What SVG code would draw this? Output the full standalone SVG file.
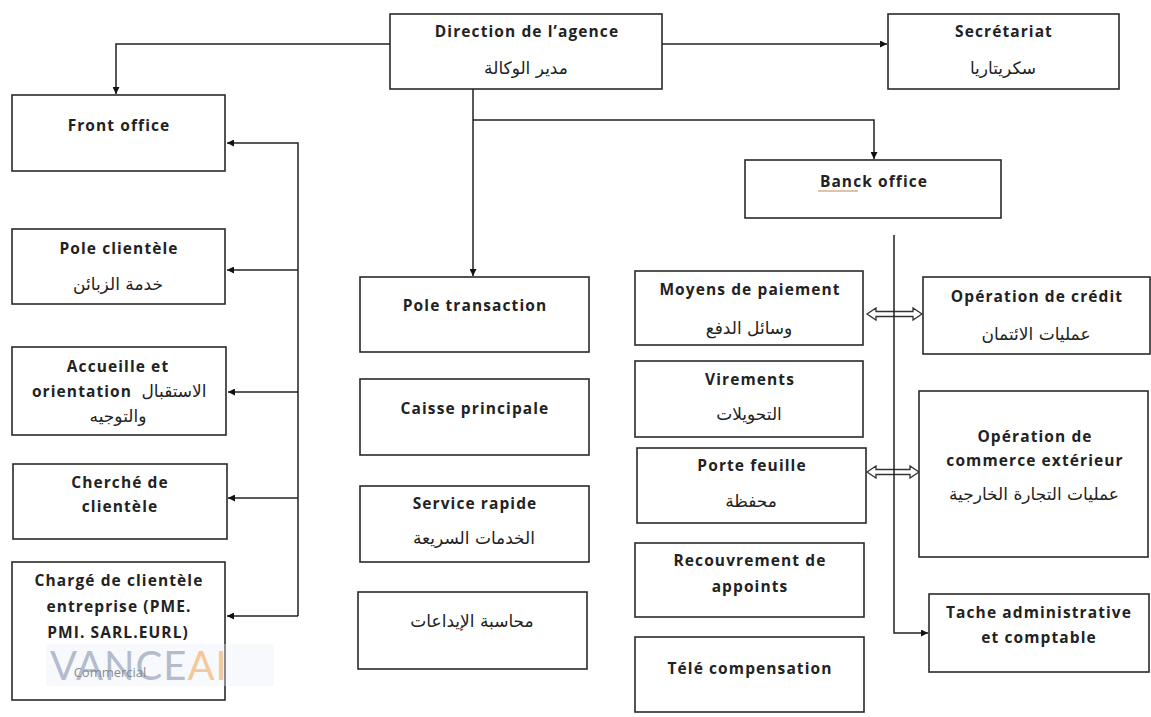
<svg xmlns="http://www.w3.org/2000/svg" width="1151" height="717" viewBox="0 0 1151 717">
<style>
.box{fill:#fff;stroke:#2a2a2a;stroke-width:1.6}
.t{font-family:"Open Sans","Liberation Sans",sans-serif;font-size:15.5px;font-weight:700;letter-spacing:1.1px;fill:#222;text-anchor:middle}
.ar{font-family:"DejaVu Sans","Noto Sans",sans-serif;font-size:17px;fill:#222;text-anchor:middle;direction:rtl}
.ln{fill:none;stroke:#222;stroke-width:1.5}
.dbl{fill:#fff;stroke:#333;stroke-width:1.3}
</style>
<defs>
<marker id="ah" viewBox="0 0 10 10" refX="10" refY="5" markerWidth="7" markerHeight="7" markerUnits="userSpaceOnUse" orient="auto">
<path d="M0,0 L10,5 L0,10 z" fill="#111"/>
</marker>
</defs>
<rect width="1151" height="717" fill="#fff"/>

<g id="connectors">
<path class="ln" d="M390,44 H116 V94" marker-end="url(#ah)"/>
<path class="ln" d="M662,44 H887" marker-end="url(#ah)"/>
<path class="ln" d="M473,89 V276" marker-end="url(#ah)"/>
<path class="ln" d="M473,120 H874 V159" marker-end="url(#ah)"/>
<path class="ln" d="M298,616 V143 H227" marker-end="url(#ah)"/>
<path class="ln" d="M298,270 H227" marker-end="url(#ah)"/>
<path class="ln" d="M298,392 H228" marker-end="url(#ah)"/>
<path class="ln" d="M298,498 H228" marker-end="url(#ah)"/>
<path class="ln" d="M298,616 H227" marker-end="url(#ah)"/>
<polygon class="dbl" points="867,314 876,308 876,311.5 913,311.5 913,308 922,314 913,320 913,316.5 876,316.5 876,320"/>
<polygon class="dbl" points="867,472 876,466 876,469.5 910,469.5 910,466 919,472 910,478 910,474.5 876,474.5 876,478"/>
<path class="ln" d="M894,235 V633 H928" marker-end="url(#ah)"/>
</g>

<g id="direction">
<rect class="box" x="390" y="14" width="272" height="75"/>
<text class="t" x="527" y="37">Direction de l’agence</text>
<text class="ar" x="526" y="74">مدير الوكالة</text>
</g>
<g id="secretariat">
<rect class="box" x="888" y="14" width="231" height="75"/>
<text class="t" x="1004" y="37">Secrétariat</text>
<text class="ar" x="1003" y="74">سكريتاريا</text>
</g>
<g id="front-office">
<rect class="box" x="12" y="95" width="213" height="76"/>
<text class="t" x="119" y="131">Front office</text>
</g>
<g id="banck-office">
<rect class="box" x="745" y="160" width="256" height="58"/>
<text class="t" x="874" y="187">Banck office</text>
<path d="M818,191 H858" stroke="#c8864a" stroke-width="1" fill="none"/>
</g>
<g id="pole-clientele">
<rect class="box" x="12" y="229" width="213" height="75"/>
<text class="t" x="119" y="254">Pole clientèle</text>
<text class="ar" x="118" y="290">خدمة الزبائن</text>
</g>
<g id="accueille">
<rect class="box" x="12" y="347" width="214" height="88"/>
<text class="t" x="118" y="372">Accueille et</text>
<text class="t" x="82" y="397">orientation</text>
<text class="ar" x="174" y="397">الاستقبال</text>
<text class="ar" x="118" y="422">والتوجيه</text>
</g>
<g id="cherche">
<rect class="box" x="13" y="464" width="214" height="75"/>
<text class="t" x="120" y="488">Cherché de</text>
<text class="t" x="120" y="512">clientèle</text>
</g>
<g id="charge">
<rect class="box" x="12" y="562" width="213" height="138"/>
<text class="t" x="119" y="586">Chargé de clientèle</text>
<text class="t" x="119" y="612">entreprise (PME.</text>
<text class="t" x="118" y="638">PMI. SARL.EURL)</text>
<text class="t" x="110" y="677" style="font-size:13px;font-weight:400;letter-spacing:0;fill:#555">Commercial</text>
</g>
<g id="watermark">
<rect x="46" y="644" width="228" height="42" fill="#e9eef5" opacity="0.35"/>
<text x="50" y="680" style="font-family:Lato,'Liberation Sans',sans-serif;font-size:40px;font-weight:400;letter-spacing:1px;fill:#7d8ca6;opacity:0.55">VANCE<tspan style="fill:#f2a24a">AI</tspan></text>
</g>
<g id="pole-transaction">
<rect class="box" x="360" y="277" width="229" height="75"/>
<text class="t" x="475" y="311">Pole transaction</text>
</g>
<g id="caisse">
<rect class="box" x="360" y="379" width="229" height="76"/>
<text class="t" x="475" y="414">Caisse principale</text>
</g>
<g id="service-rapide">
<rect class="box" x="360" y="486" width="229" height="76"/>
<text class="t" x="475" y="509">Service rapide</text>
<text class="ar" x="474" y="544">الخدمات السريعة</text>
</g>
<g id="comptabilite">
<rect class="box" x="358" y="592" width="229" height="77"/>
<text class="ar" x="472" y="627">محاسبة الإيداعات</text>
</g>
<g id="moyens">
<rect class="box" x="635" y="271" width="228" height="74"/>
<text class="t" x="750" y="295">Moyens de paiement</text>
<text class="ar" x="749" y="334">وسائل الدفع</text>
</g>
<g id="virements">
<rect class="box" x="635" y="361" width="228" height="76"/>
<text class="t" x="750" y="385">Virements</text>
<text class="ar" x="749" y="420">التحويلات</text>
</g>
<g id="porte-feuille">
<rect class="box" x="637" y="448" width="229" height="75"/>
<text class="t" x="752" y="471">Porte feuille</text>
<text class="ar" x="751" y="507">محفظة</text>
</g>
<g id="recouvrement">
<rect class="box" x="635" y="543" width="229" height="74"/>
<text class="t" x="750" y="566">Recouvrement de</text>
<text class="t" x="750" y="592">appoints</text>
</g>
<g id="tele">
<rect class="box" x="635" y="637" width="229" height="75"/>
<text class="t" x="750" y="674">Télé compensation</text>
</g>
<g id="credit">
<rect class="box" x="923" y="277" width="227" height="77"/>
<text class="t" x="1037" y="302">Opération de crédit</text>
<text class="ar" x="1036" y="340">عمليات الائتمان</text>
</g>
<g id="commerce">
<rect class="box" x="919" y="391" width="229" height="166"/>
<text class="t" x="1035" y="442">Opération de</text>
<text class="t" x="1035" y="466">commerce extérieur</text>
<text class="ar" x="1034" y="500">عمليات التجارة الخارجية</text>
</g>
<g id="tache">
<rect class="box" x="929" y="594" width="220" height="78"/>
<text class="t" x="1039" y="618">Tache administrative</text>
<text class="t" x="1039" y="643">et comptable</text>
</g>
</svg>
